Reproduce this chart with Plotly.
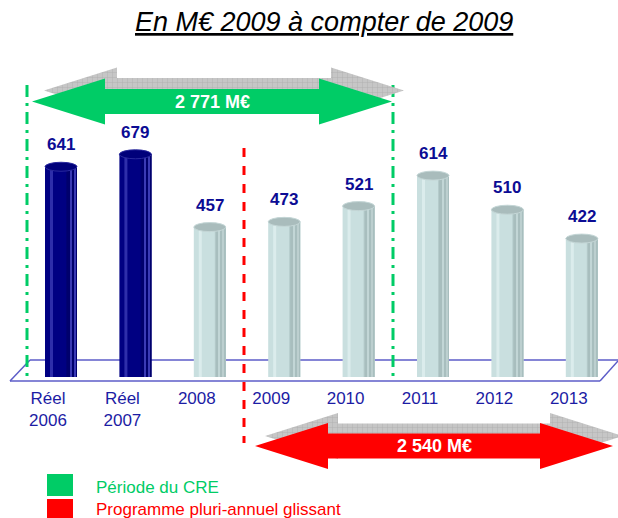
import plotly.graph_objects as go

# ---------------- data ----------------
categories = ["Réel<br>2006", "Réel<br>2007", "2008", "2009", "2010", "2011", "2012", "2013"]
values = [641, 679, 457, 473, 521, 614, 510, 422]
is_actual = [True, True, False, False, False, False, False, False]
cre_total_label = "2 771 M€"
ppa_total_label = "2 540 M€"
title_text = "En M€ 2009 à compter de 2009"
legend_labels = ["Période du CRE", "Programme pluri-annuel glissant"]

# ---------------- geometry (pixels) ----------------
W, H = 618, 518
X0, DX = 61.0, 74.4      # first bar centre, spacing
Y0, K = 377.0, 0.328     # baseline pixel, px per unit
BAR_PX = 32.0

FONT = "Liberation Sans, Arial, sans-serif"
NAVY_TXT = "#0c0c94"
TICK_TXT = "#1c1ca4"
GREEN = "#00cc66"
RED = "#ff0000"

def px(x):
    return x / W

def py(y):
    return 1 - y / H

xs = list(range(len(values)))
bw = BAR_PX / DX

def col(navy, light):
    return [navy if a else light for a in is_actual]

fig = go.Figure()

# cylinder body and shading layers
layers = [
    # (width px, offset px from centre, navy colour, light colour)
    (BAR_PX, -BAR_PX / 2, "#000082", "#c9dfdf"),
    (3, -11, "#2e2eaa", "#dbecec"),
    (11, 5, "#000074", "#b5cbcb"),
    (10, 6, "#00006c", "#a8bebe"),
    (1.2, 9, "#3a3ab4", "#c2d6d6"),
    (1.2, 13, "#3a3ab4", "#bccfcf"),
]
for wpx, opx, cn, cl in layers:
    fig.add_trace(go.Bar(
        x=xs, y=values, width=wpx / DX, offset=opx / DX,
        marker=dict(color=col(cn, cl), line=dict(width=0)),
        hoverinfo="skip", showlegend=False,
    ))

# caps + value labels
shapes = []
annotations = []
for x, v, a in zip(xs, values, is_actual):
    shapes.append(dict(
        type="circle", xref="x", yref="y",
        x0=x - bw / 2, x1=x + bw / 2, y0=v - 4.5 / K, y1=v + 4.5 / K,
        fillcolor="#00007a" if a else "#a9bcbc",
        line=dict(color="#2a2a9e" if a else "#c4d6d6", width=1), layer="above",
    ))
    annotations.append(dict(
        x=x, y=v, xref="x", yref="y", yshift=22, showarrow=False,
        xanchor="center", yanchor="middle",
        text="<b>%d</b>" % v, font=dict(family=FONT, size=17, color=NAVY_TXT),
    ))

# floor (parallelogram)
floor_col = "#5c5cc8"
for (xa, ya, xb, yb) in [(30, 360, W, 360), (10, 381, 600, 381), (10, 381, 30, 360), (600, 381, W, 361)]:
    shapes.append(dict(type="line", xref="paper", yref="paper",
                       x0=px(xa), y0=py(ya), x1=px(xb), y1=py(yb),
                       line=dict(color=floor_col, width=1.5), layer="below"))

# period separators
for xl in (27, 393):
    shapes.append(dict(type="line", xref="paper", yref="paper",
                       x0=px(xl), x1=px(xl), y0=py(85), y1=py(382),
                       line=dict(color=GREEN, width=3, dash="12px,6px,3px,6px"), layer="below"))
shapes.append(dict(type="line", xref="paper", yref="paper",
                   x0=px(244), x1=px(244), y0=py(148), y1=py(443),
                   line=dict(color=RED, width=3, dash="9px,9px"), layer="below"))

# legend squares
shapes.append(dict(type="rect", xref="paper", yref="paper", x0=px(47), x1=px(73),
                   y0=py(474), y1=py(496), fillcolor=GREEN, line=dict(width=0)))
shapes.append(dict(type="rect", xref="paper", yref="paper", x0=px(47), x1=px(73),
                   y0=py(499), y1=py(520), fillcolor=RED, line=dict(width=0)))
annotations.append(dict(x=px(94), y=py(487), xref="paper", yref="paper", xanchor="left",
                        yanchor="middle", showarrow=False, text=legend_labels[0],
                        font=dict(family=FONT, size=17, color=GREEN)))
annotations.append(dict(x=px(94), y=py(509), xref="paper", yref="paper", xanchor="left",
                        yanchor="middle", showarrow=False, text=legend_labels[1],
                        font=dict(family=FONT, size=17, color=RED)))

# title
annotations.append(dict(x=px(324), y=py(22), xref="paper", yref="paper", showarrow=False,
                        xanchor="center", yanchor="middle",
                        text="<i><u>%s</u></i>" % title_text,
                        font=dict(family=FONT, size=27, color="#000000")))

# double arrows (pixel axes x2/y2)
def arrow(xl, xr, yc, hl=73, hh=23, sh=12.5, dx=0, dy=0):
    pts = [(xl, yc), (xl + hl, yc - hh), (xl + hl, yc - sh), (xr - hl, yc - sh),
           (xr - hl, yc - hh), (xr, yc), (xr - hl, yc + hh), (xr - hl, yc + sh),
           (xl + hl, yc + sh), (xl + hl, yc + hh), (xl, yc)]
    return [p[0] + dx for p in pts], [p[1] + dy for p in pts]

for (xl, xr, yc, color, lab, sdx, sdy) in [
    (32, 392, 101.5, GREEN, cre_total_label, 12, -11),
    (255, 613, 446, RED, ppa_total_label, 10, -10),
]:
    sx, sy = arrow(xl, xr, yc, dx=sdx, dy=sdy)
    fig.add_trace(go.Scatter(
        x=sx, y=sy, xaxis="x2", yaxis="y2", mode="lines", fill="toself",
        line=dict(width=0), fillcolor="#c2c2c2",
        fillpattern=dict(shape="+", size=5, fgcolor="#8e8e8e", bgcolor="#c6c6c6", solidity=0.15),
        hoverinfo="skip", showlegend=False,
    ))
    ax_, ay_ = arrow(xl, xr, yc)
    fig.add_trace(go.Scatter(
        x=ax_, y=ay_, xaxis="x2", yaxis="y2", mode="lines", fill="toself",
        line=dict(width=0), fillcolor=color, hoverinfo="skip", showlegend=False,
    ))
    annotations.append(dict(x=(xl + xr) / 2, y=yc, xref="x2", yref="y2", showarrow=False,
                            xanchor="center", yanchor="middle",
                            text="<b>%s</b>" % lab, font=dict(family=FONT, size=18, color="white")))

fig.update_layout(
    width=W, height=H, margin=dict(l=0, r=0, t=0, b=0),
    paper_bgcolor="white", plot_bgcolor="rgba(0,0,0,0)",
    barmode="overlay", showlegend=False, hovermode=False,
    shapes=shapes, annotations=annotations,
    xaxis=dict(range=[-X0 / DX, (W - X0) / DX], tickvals=xs, ticktext=categories,
               anchor="free", position=py(386), showgrid=False, zeroline=False,
               showline=False, ticks="", ticklabelshift=-13,
               tickfont=dict(family=FONT, size=17, color=TICK_TXT), fixedrange=True),
    yaxis=dict(range=[-(H - Y0) / K, Y0 / K], visible=False, fixedrange=True),
    xaxis2=dict(range=[0, W], overlaying="x", visible=False, anchor="y2", fixedrange=True),
    yaxis2=dict(range=[H, 0], overlaying="y", visible=False, anchor="x2", fixedrange=True),
)

fig.write_html("out.html", config={"displayModeBar": False},
               post_script="document.body.style.margin='0px';document.body.style.overflow='hidden';")
